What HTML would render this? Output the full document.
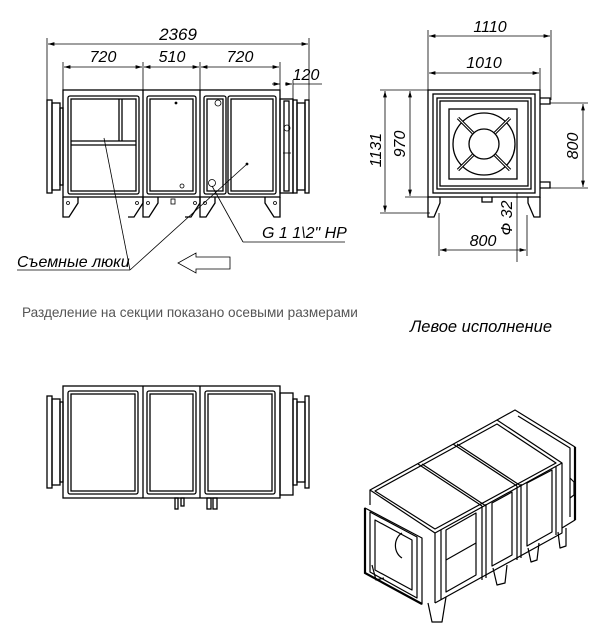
<!DOCTYPE html>
<html><head><meta charset="utf-8"><style>
html,body{margin:0;padding:0;background:#fff}
svg{display:block}
text{font-family:"Liberation Sans",sans-serif;font-style:italic;fill:#000}
</style></head><body>
<svg width="600" height="643" viewBox="0 0 600 643" xmlns="http://www.w3.org/2000/svg">
<defs>
<marker id="a" viewBox="0 0 10 6" refX="10" refY="3" markerWidth="8" markerHeight="5" orient="auto-start-reverse"><path d="M0,0L10,3L0,6z" fill="#000"/></marker>
</defs>
<g stroke="#000" fill="none" stroke-width="0.8">
<line x1="47" y1="38" x2="47" y2="100"/><line x1="309" y1="38" x2="309" y2="100"/>
<line x1="48" y1="44" x2="308" y2="44" marker-start="url(#a)" marker-end="url(#a)"/>
<line x1="63" y1="62" x2="63" y2="90"/><line x1="143" y1="62" x2="143" y2="90"/><line x1="200" y1="62" x2="200" y2="90"/><line x1="280" y1="62" x2="280" y2="90"/>
<line x1="64" y1="67" x2="142" y2="67" marker-start="url(#a)" marker-end="url(#a)"/>
<line x1="144" y1="67" x2="199" y2="67" marker-start="url(#a)" marker-end="url(#a)"/>
<line x1="201" y1="67" x2="279" y2="67" marker-start="url(#a)" marker-end="url(#a)"/>
<line x1="293" y1="80" x2="293" y2="100"/>
<line x1="272" y1="84" x2="280" y2="84" marker-end="url(#a)"/>
<line x1="293" y1="84" x2="322" y2="84"/>
<line x1="285" y1="84" x2="292" y2="84" marker-end="url(#a)"/>
<g stroke-width="1.3">
<rect x="63" y="90" width="217" height="107"/>
<line x1="143" y1="90" x2="143" y2="197"/><line x1="200" y1="90" x2="200" y2="197"/>
<rect x="68" y="96" width="71" height="98" rx="2"/><rect x="71" y="99" width="65" height="92"/>
<rect x="147" y="96" width="49" height="98" rx="2"/><rect x="150" y="99" width="43" height="92"/>
<rect x="204" y="96" width="22" height="98" rx="2"/><rect x="207" y="99" width="16" height="92"/>
<rect x="228" y="96" width="48" height="98" rx="2"/><rect x="231" y="99" width="42" height="92"/>
<line x1="119" y1="99" x2="119" y2="141"/><line x1="122" y1="99" x2="122" y2="141"/>
<line x1="71" y1="141" x2="136" y2="141"/><line x1="71" y1="145" x2="136" y2="145"/>
<path d="M63,197 v20 h6 l9,-14 v-6"/><path d="M143,197 v6 l-9,14 h-6"/>
<path d="M143,197 v20 h6 l9,-14 v-6"/><path d="M200,197 v6 l-9,14 h-6"/>
<path d="M200,197 v20 h6 l9,-14 v-6"/><path d="M280,197 v20 h-6 l-9,-14 v-6"/>
<rect x="47" y="100" width="5" height="93"/><rect x="52" y="103" width="8" height="87"/><rect x="60" y="108" width="3" height="77"/>
<rect x="280" y="99" width="13" height="94"/><rect x="284" y="101" width="5" height="90"/>
<rect x="293" y="100" width="4" height="93"/><rect x="297" y="103" width="8" height="87"/><rect x="305" y="100" width="4" height="93"/>
</g>
<circle cx="218" cy="103" r="3"/><circle cx="212" cy="183" r="3.5"/><circle cx="182" cy="186" r="2"/>
<circle cx="176" cy="103" r="1" fill="#000"/><circle cx="247" cy="164" r="1" fill="#000"/>
<circle cx="287" cy="128" r="3"/><line x1="283" y1="153" x2="291" y2="153"/><rect x="171" y="199" width="4" height="5"/>
<circle cx="68" cy="203" r="1.5"/><circle cx="137" cy="203" r="1.5"/><circle cx="148" cy="203" r="1.5"/><circle cx="195" cy="203" r="1.5"/><circle cx="205" cy="203" r="1.5"/><circle cx="275" cy="203" r="1.5"/>
<line x1="17" y1="270" x2="130" y2="270"/><line x1="130" y1="270" x2="104" y2="138"/><line x1="130" y1="270" x2="247" y2="164"/>
<line x1="243" y1="242" x2="345" y2="242"/><line x1="243" y1="242" x2="212" y2="186"/>
<path d="M230,257 h-34 v-4 l-18,10 l18,10 v-4 h34 z"/>

<line x1="428" y1="30" x2="428" y2="90"/><line x1="551" y1="30" x2="551" y2="100"/><line x1="540" y1="68" x2="540" y2="90"/>
<line x1="429" y1="36" x2="550" y2="36" marker-start="url(#a)" marker-end="url(#a)"/>
<line x1="429" y1="73" x2="539" y2="73" marker-start="url(#a)" marker-end="url(#a)"/>
<line x1="380" y1="90" x2="428" y2="90"/><line x1="380" y1="213" x2="430" y2="213"/><line x1="405" y1="197" x2="428" y2="197"/>
<line x1="385" y1="91" x2="385" y2="212" marker-start="url(#a)" marker-end="url(#a)"/>
<line x1="410" y1="91" x2="410" y2="196" marker-start="url(#a)" marker-end="url(#a)"/>
<line x1="550" y1="103" x2="588" y2="103"/><line x1="550" y1="188" x2="588" y2="188"/>
<line x1="583" y1="104" x2="583" y2="187" marker-start="url(#a)" marker-end="url(#a)"/>
<line x1="439" y1="213" x2="439" y2="256"/><line x1="527" y1="215" x2="527" y2="256"/>
<line x1="440" y1="250" x2="526" y2="250" marker-start="url(#a)" marker-end="url(#a)"/>
<line x1="517" y1="193" x2="517" y2="262"/>
<g stroke-width="1.3">
<rect x="428" y="90" width="112" height="107"/>
<rect x="433" y="94" width="102" height="99"/><rect x="437" y="98" width="94" height="91"/><rect x="440" y="101" width="88" height="85"/>
<rect x="449" y="109" width="68" height="70"/>
<circle cx="484" cy="144" r="31"/><circle cx="484" cy="144" r="15"/>
<path d="M540,98 h10 v6 h-10 M540,182 h10 v6 h-10"/>
<path d="M428,197 v20 h6 l6,-14 v-6 M540,197 v20 h-6 l-6,-14 v-6"/>
<path d="M482,197 v5 h10 v-5"/>
</g>
<g stroke-width="3.2"><line x1="458" y1="118" x2="473" y2="133"/><line x1="510" y1="118" x2="495" y2="133"/><line x1="458" y1="170" x2="473" y2="155"/><line x1="510" y1="170" x2="495" y2="155"/></g>
<g stroke="#fff" stroke-width="1"><line x1="458" y1="118" x2="473" y2="133"/><line x1="510" y1="118" x2="495" y2="133"/><line x1="458" y1="170" x2="473" y2="155"/><line x1="510" y1="170" x2="495" y2="155"/></g>

<g stroke-width="1.3">
<rect x="63" y="386" width="217" height="112"/>
<line x1="143" y1="386" x2="143" y2="498"/><line x1="200" y1="386" x2="200" y2="498"/>
<rect x="68" y="391" width="70" height="103" rx="2"/><rect x="71" y="394" width="64" height="97"/>
<rect x="147" y="391" width="49" height="103" rx="2"/><rect x="150" y="394" width="43" height="97"/>
<rect x="205" y="391" width="70" height="103" rx="2"/><rect x="208" y="394" width="64" height="97"/>
<rect x="47" y="396" width="5" height="92"/><rect x="52" y="399" width="8" height="86"/><rect x="60" y="402" width="3" height="80"/>
<rect x="280" y="393" width="13" height="102"/>
<rect x="293" y="399" width="4" height="86"/><rect x="297" y="402" width="8" height="80"/><rect x="305" y="396" width="4" height="92"/>
<rect x="175" y="498" width="3" height="11"/><rect x="181" y="498" width="3" height="8"/>
<rect x="207" y="498" width="4" height="11"/><rect x="213" y="498" width="4" height="11"/>
</g>

<g stroke-width="1.2" stroke-linejoin="round">
<path d="M370,490 L497,420 L562,463 L435,533 Z"/>
<path d="M375,491 L497,424 L556,463 L435,529 Z"/>
<path d="M418,464 L482,506 M453,444 L517,486 M422,464 L486,506 M457,444 L521,486"/>
<path d="M435,533 L435,603 M562,463 L562,533 L435,603 M370,490 L370,505"/>
<path d="M441,530 L441,600 M482,506 L482,580 M486,504 L486,578 M517,486 L517,560 M521,484 L521,558 M556,466 L556,535"/>
<path d="M446,530 L476,513 L476,575 L446,592 Z M492,503 L512,492 L512,555 L492,566 Z M527,483 L552,470 L552,532 L527,546 Z"/>
<path d="M446,560 L476,543"/>
<path d="M497,420 L515,410 L575,447 L575,520 L562,528"/>
<path d="M518,416 L570,448 L570,517"/>
<path d="M365,508 L422,538 L422,604 L365,573 Z"/>
<path d="M370,512 L417,537 L417,598 L370,572 Z"/>
<path d="M375,520 L412,540 L412,590 L375,570 Z"/>
<path d="M402,533 A12,14 0 0 0 402,558"/>
<path d="M428,603 L432,622 L442,622 L446,597 M493,568 L497,585 L505,583 L507,565 M528,548 L531,562 L537,560 L539,543 M558,532 L560,548 L566,546 L566,528 M372,565 L376,580 L384,578"/>
<path d="M570,478 L574,482 L574,495 L570,498"/>
</g>
</g>
<g stroke="#000" stroke-width="2.2" fill="none">
<path d="M365,508 L365,573 L422,604"/>
<path d="M575,447 L575,520"/>
</g>

<text x="178" y="40" font-size="17" text-anchor="middle">2369</text>
<text x="103" y="62" font-size="16" text-anchor="middle">720</text>
<text x="172" y="62" font-size="16" text-anchor="middle">510</text>
<text x="240" y="62" font-size="16" text-anchor="middle">720</text>
<text x="306" y="80" font-size="16" text-anchor="middle">120</text>
<text x="262" y="238" font-size="16">G 1 1\2" HP</text>
<text x="17" y="267" font-size="16">Съемные люки</text>
<text x="490" y="32" font-size="16" text-anchor="middle">1110</text>
<text x="484" y="68" font-size="16" text-anchor="middle">1010</text>
<text x="483" y="246" font-size="16" text-anchor="middle">800</text>
<text transform="translate(381,150) rotate(-90)" font-size="16" text-anchor="middle">1131</text>
<text transform="translate(405,144) rotate(-90)" font-size="16" text-anchor="middle">970</text>
<text transform="translate(578,146) rotate(-90)" font-size="16" text-anchor="middle">800</text>
<text transform="translate(512,218) rotate(-90)" font-size="16" text-anchor="middle">Ф 32</text>
<text x="22" y="317" font-size="13.6" style="font-style:normal;fill:#555">Разделение на секции показано осевыми размерами</text>
<text x="410" y="332" font-size="16.5">Левое исполнение</text>
</svg>
</body></html>
